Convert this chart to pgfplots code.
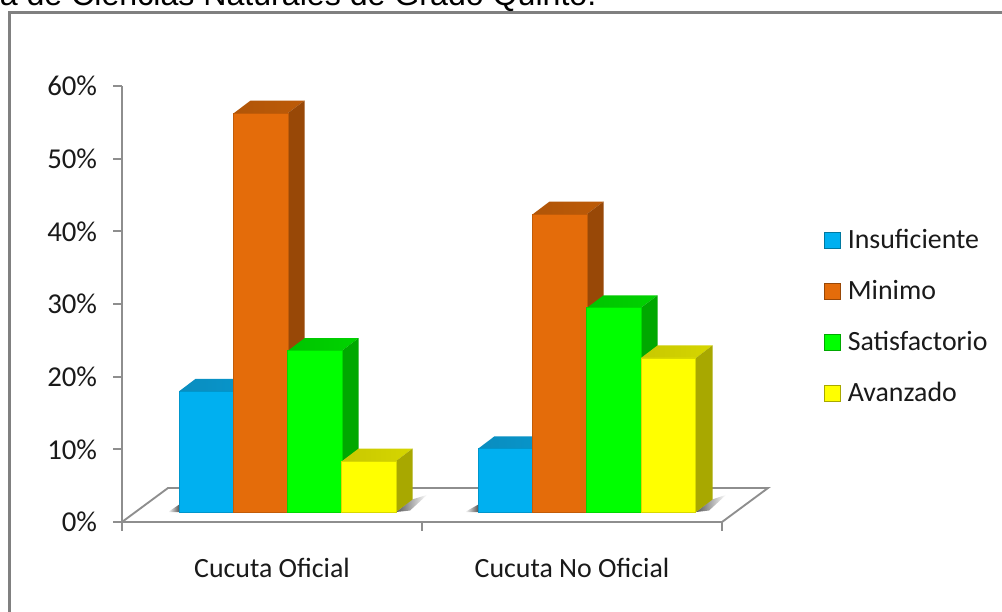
\documentclass[border=0pt]{standalone}
\usepackage{fontspec}
\setmainfont{Carlito}
\newfontfamily\arialf{Liberation Sans}
\usepackage{pgfplots}
\pgfplotsset{compat=1.18}
\definecolor{fb}{HTML}{00B0F0}\definecolor{fo}{HTML}{E46C0A}\definecolor{fg}{HTML}{00FF00}\definecolor{fy}{HTML}{FFFF00}
\definecolor{tb}{HTML}{0A8DBF}\definecolor{to}{HTML}{B05508}\definecolor{tg}{HTML}{00C400}\definecolor{ty}{HTML}{C8C800}
\definecolor{sb}{HTML}{00789F}\definecolor{so}{HTML}{984807}\definecolor{sg}{HTML}{00A800}\definecolor{sy}{HTML}{A8A800}
\definecolor{axg}{HTML}{8E8E8E}\definecolor{txt}{HTML}{1A1A1A}
\newcommand{\lab}{\fontsize{20.9}{24}\selectfont\color{txt}}
\newcommand{\ylab}{\fontsize{21.6}{24}\selectfont\color{txt}}
\pgfplotsset{
 face/.style={fill=s#1,draw=none,forget plot},
 topface/.style={shade,left color=t#1,right color=t#1!75!f#1,draw=none,forget plot},
 front/.style={ybar,bar shift=0pt,bar width=54.5,fill=f#1,draw=f#1!85!black,line width=0.5pt,
   legend image code/.code={\draw[fill=f#1,draw=s#1,line width=0.8pt] (0pt,-4.4pt) rectangle (12pt,7.6pt);\path (17pt,0pt);}},
}
\begin{document}
\begin{tikzpicture}[x=1pt,y=1pt]
\useasboundingbox (0,0) rectangle (751.5pt,458.25pt);
\clip (0,0) rectangle (751.5pt,458.25pt);
\fill[white] (0,0) rectangle (751.5pt,458.25pt);
% frame and cut-off title
\draw[color=black!50,line width=2.1pt] (6.9pt,-5pt) -- (6.9pt,449.1pt) -- (760pt,449.1pt);
\node[anchor=base east,inner sep=0pt,font=\arialf\fontsize{24.1}{28}\selectfont,text=black] at (447.5pt,453.8pt) {a de Ciencias Naturales de Grado Quinto.};
% axes with the percent scale
\begin{axis}[
  at={(91.5pt,66.75pt)},anchor=south west,scale only axis,width=450pt,height=327pt,
  xmin=122,xmax=722,ymin=0,ymax=60,clip=false,
  axis lines=left,axis line style={-,color=axg,line width=2.2pt},
  tick style={color=axg,line width=1.7pt},tick align=outside,major tick length=6.5pt,
  xtick={122,422,722},xticklabels={},
  extra x ticks={272,572},extra x tick labels={Cucuta Oficial,Cucuta No Oficial},
  extra x tick style={major tick length=0pt,xticklabel style={font=\lab,yshift=-23.75pt}},
  ytick={0,10,20,30,40,50,60},
  /pgf/number format/assume math mode=true,
  yticklabel={\pgfmathprintnumber{\tick}\%},
  yticklabel style={font=\ylab,inner sep=0pt,xshift=-12pt},
]
\addplot[color=axg,line width=1.4pt,forget plot] coordinates {(122,0) (168,4.68) (768,4.68) (722,0)};
\end{axis}
% bars, on a floor plane 10px above the axis line
\begin{axis}[
  at={(91.5pt,74.25pt)},anchor=south west,scale only axis,width=450pt,height=327pt,
  xmin=122,xmax=722,ymin=0,ymax=60,clip=false,axis lines=none,
  legend style={at={(axis cs:824,38.8)},anchor=north west,draw=none,fill=none,inner sep=0pt,
    legend cell align=left,row sep=20.25pt,
    nodes={inner sep=0pt,font=\lab,text height=14pt,text depth=4pt}},
]
% soft floor shadows
\addplot[shade,left color=black!65,right color=white,draw=none,forget plot] coordinates {(396,0) (412,1.72) (427,2.35) (410,0.2)};
\addplot[shade,left color=black!65,right color=white,draw=none,forget plot] coordinates {(696,0) (712,1.72) (726,2.35) (709,0.2)};
\addplot[shade,left color=white,right color=black!65,draw=none,forget plot] coordinates {(168,0) (179,0) (179,1.0)};
\addplot[shade,left color=white,right color=black!65,draw=none,forget plot] coordinates {(465,0) (478,0) (478,1.0)};
% Insuficiente
\addplot[topface=b] coordinates {(179,16.6) (195.5,18.32) (250.5,18.32) (234,16.6)};
\addplot[face=b] coordinates {(234,16.6) (250.5,18.32) (250.5,1.72) (234,0)};
\addplot[topface=b] coordinates {(478,8.7) (494.5,10.42) (549.5,10.42) (533,8.7)};
\addplot[face=b] coordinates {(533,8.7) (549.5,10.42) (549.5,1.72) (533,0)};
\addplot[front=b] coordinates {(206.5,16.6) (505.5,8.7)};
\addlegendentry{Insuficiente}
% Minimo
\addplot[topface=o] coordinates {(234,54.9) (250.5,56.62) (304.5,56.62) (288,54.9)};
\addplot[face=o] coordinates {(288,54.9) (304.5,56.62) (304.5,1.72) (288,0)};
\addplot[topface=o] coordinates {(533,41) (549.5,42.72) (603.5,42.72) (587,41)};
\addplot[face=o] coordinates {(587,41) (603.5,42.72) (603.5,1.72) (587,0)};
\addplot[front=o] coordinates {(261,54.9) (560,41)};
\addlegendentry{Minimo}
% Satisfactorio
\addplot[topface=g] coordinates {(288,22.2) (304.5,23.92) (358.5,23.92) (342,22.2)};
\addplot[face=g] coordinates {(342,22.2) (358.5,23.92) (358.5,1.72) (342,0)};
\addplot[topface=g] coordinates {(587,28.1) (603.5,29.82) (657.5,29.82) (641,28.1)};
\addplot[face=g] coordinates {(641,28.1) (657.5,29.82) (657.5,1.72) (641,0)};
\addplot[front=g] coordinates {(315,22.2) (614,28.1)};
\addlegendentry{Satisfactorio}
% Avanzado
\addplot[topface=y] coordinates {(342,7) (358.5,8.72) (412.5,8.72) (396,7)};
\addplot[face=y] coordinates {(396,7) (412.5,8.72) (412.5,1.72) (396,0)};
\addplot[topface=y] coordinates {(641,21.2) (657.5,22.92) (712.5,22.92) (696,21.2)};
\addplot[face=y] coordinates {(696,21.2) (712.5,22.92) (712.5,1.72) (696,0)};
\addplot[front=y] coordinates {(369,7) (668.5,21.2)};
\addlegendentry{Avanzado}
\end{axis}
\end{tikzpicture}
\end{document}
